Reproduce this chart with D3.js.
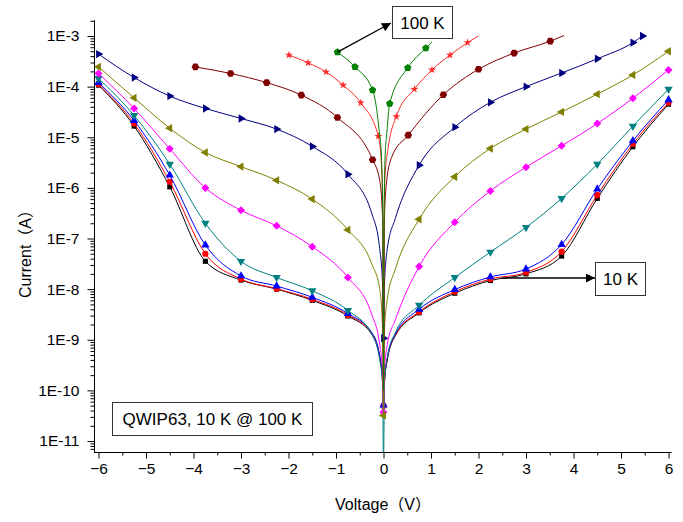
<!DOCTYPE html>
<html>
<head>
<meta charset="utf-8">
<script src="https://cdn.jsdelivr.net/npm/d3@7"></script>
<style>
    body { margin: 0; background: #fff; }
    svg { display: block; font-family: "Liberation Sans", Arial, "Noto Sans CJK SC", sans-serif; }
</style>
</head>
<body>
<svg id="chart" width="683" height="522"></svg>
<script>
// temperatures, one curve each
var temps = ['10 K', '20 K', '30 K', '40 K', '50 K', '60 K', '70 K', '80 K', '90 K', '100 K'];

// marker voltages for 10 K .. 60 K
var gridV = [-6, -5.25, -4.5, -3.75, -3, -2.25, -1.5, -0.75, 0, 0.75, 1.5, 2.25, 3, 3.75, 4.5, 5.25, 6];
// extra line points close to 0 V (no markers)
var nearV = [-0.25, -0.08, -0.02, 0.02, 0.08, 0.25];

var i10 = [1.07e-4, 1.66e-5, 1.05e-6, 3.55e-8, 1.51e-8, 1.0e-8, 6.0e-9, 2.95e-9, 5.0e-11, 3.4e-9, 8.3e-9, 1.48e-8, 2.0e-8, 4.5e-8, 6.2e-7, 6.5e-6, 4.5e-5];
var n10 = [1.3e-9, 4.5e-10, 1.6e-10, 1.5e-10, 4.0e-10, 1.2e-9];

var i20 = [1.12e-4, 1.86e-5, 1.32e-6, 5.0e-8, 1.58e-8, 1.02e-8, 6.3e-9, 3.1e-9, 5.0e-11, 3.55e-9, 8.9e-9, 1.58e-8, 2.14e-8, 5.5e-8, 7.2e-7, 7.4e-6, 4.8e-5];
var n20 = [1.35e-9, 4.7e-10, 1.65e-10, 1.55e-10, 4.2e-10, 1.25e-9];

var i30 = [1.2e-4, 2.14e-5, 1.78e-6, 7.4e-8, 1.82e-8, 1.15e-8, 6.9e-9, 3.3e-9, 5.1e-11, 4.0e-9, 9.8e-9, 1.74e-8, 2.5e-8, 7.6e-8, 9.5e-7, 8.5e-6, 5.5e-5];
var n30 = [1.4e-9, 4.9e-10, 1.7e-10, 1.6e-10, 4.4e-10, 1.3e-9];

var i40 = [1.45e-4, 2.7e-5, 2.95e-6, 2.0e-7, 3.55e-8, 1.7e-8, 9.3e-9, 3.8e-9, 3e-12, 4.8e-9, 1.7e-8, 5.4e-8, 1.66e-7, 6.2e-7, 2.95e-6, 1.66e-5, 8.9e-5];
var n40 = [1.3e-9, 4.0e-10, 1.3e-10, 1.3e-10, 4.5e-10, 1.4e-9];

var i50 = [1.82e-4, 3.7e-5, 5.9e-6, 1.0e-6, 3.6e-7, 1.78e-7, 6.9e-8, 1.7e-8, 3.7e-11, 2.8e-8, 2.1e-7, 8.7e-7, 2.57e-6, 6.8e-6, 1.86e-5, 5.9e-5, 2.14e-4];
var n50 = [3.2e-9, 8e-10, 2.5e-10, 2.5e-10, 8e-10, 2.5e-9];

var i60 = [2.45e-4, 6.0e-5, 1.51e-5, 5.0e-6, 2.63e-6, 1.41e-6, 6.0e-7, 1.48e-7, 3.2e-11, 2.4e-7, 1.66e-6, 6.0e-6, 1.45e-5, 3.16e-5, 7.1e-5, 1.7e-4, 5.0e-4];
var n60 = [3.2e-8, 1.0e-8, 1.6e-9, 1.6e-9, 6.3e-9, 2.5e-8];

var v70 = [-6, -5.25, -4.5, -3.75, -3, -2.25, -1.5, -0.75, 0, 0.75, 1.5, 2.25, 3, 3.75, 4.5, 5.25, 5.45];
var i70 = [4.4e-4, 1.51e-4, 6.5e-5, 3.7e-5, 2.35e-5, 1.45e-5, 6.6e-6, 1.86e-6, 1.07e-9, 2.8e-6, 1.58e-5, 4.9e-5, 1.0e-4, 1.86e-4, 3.55e-4, 7.4e-4, 1.0e-3];
var n70 = [3.2e-7, 6.3e-8, 1.26e-8, 1.26e-8, 6.3e-8, 2.5e-7];

var v80 = [-3.96, -3.22, -2.46, -1.73, -0.97, -0.23, 0.52, 1.26, 2.0, 2.75, 3.51];
var i80 = [2.45e-4, 1.82e-4, 1.2e-4, 6.8e-5, 2.45e-5, 3.6e-6, 1.1e-5, 6.9e-5, 2.2e-4, 4.6e-4, 7.9e-4];
var nv80 = [-0.08, -0.02, 0, 0.02, 0.06, 0.17, 3.8];
var n80 = [1.4e-6, 2.5e-7, 1e-10, 2.5e-7, 1.2e-6, 4e-6, 1.02e-3];

var v90 = [-1.99, -1.59, -1.21, -0.85, -0.48, -0.11, 0.27, 0.65, 1.02, 1.40, 1.77];
var i90 = [4.2e-4, 2.95e-4, 1.95e-4, 1.07e-4, 4.8e-5, 1.05e-5, 2.57e-5, 8.9e-5, 2.14e-4, 4.2e-4, 7.4e-4];
var nv90 = [-0.04, -0.01, 0, 0.01, 0.03, 0.1, 2.0];
var n90 = [2.5e-6, 1e-7, 1e-10, 1e-7, 1.6e-6, 6.3e-6, 1.0e-3];

var v100 = [-0.97, -0.60, -0.23, 0.13, 0.51, 0.89];
var i100 = [4.8e-4, 2.45e-4, 8.5e-5, 4.6e-5, 2.35e-4, 5.75e-4];
var nv100 = [-0.1, -0.04, -0.01, 0, 0.01, 0.03, 0.07, 1.02];
var n100 = [1.6e-5, 3.5e-6, 1e-7, 1e-10, 1e-7, 3.5e-6, 1.2e-5, 7.6e-4];

var colors = ['#000000', '#ff0000', '#0000ff', '#008080', '#ff00ff', '#808000', '#000080', '#800000', '#ff2a2a', '#008000'];

var xTicks = [-6, -5, -4, -3, -2, -1, 0, 1, 2, 3, 4, 5, 6];
var yTicks = [1e-3, 1e-4, 1e-5, 1e-6, 1e-7, 1e-8, 1e-9, 1e-10, 1e-11];

// regular polygon symbol for d3.symbol
function polygon(n, rot) {
    return {
        draw: function (ctx, size) {
            var r = Math.sqrt(size / (0.5 * n * Math.sin(2 * Math.PI / n)));
            for (var k = 0; k < n; k++) {
                var a = rot + k * 2 * Math.PI / n;
                if (k === 0) ctx.moveTo(r * Math.cos(a), r * Math.sin(a));
                else ctx.lineTo(r * Math.cos(a), r * Math.sin(a));
            }
            ctx.closePath();
        }
    };
}

var shapes = [
    [polygon(4, Math.PI / 4), 26],
    [d3.symbolCircle, 30],
    [polygon(3, -Math.PI / 2), 30],
    [polygon(3, Math.PI / 2), 30],
    [polygon(4, 0), 32],
    [polygon(3, Math.PI), 30],
    [polygon(3, 0), 30],
    [polygon(6, 0), 38],
    [d3.symbolStar, 20],
    [polygon(5, -Math.PI / 2), 36]
];

var series = [
    { mv: gridV, mi: i10, lv: nearV, li: n10 },
    { mv: gridV, mi: i20, lv: nearV, li: n20 },
    { mv: gridV, mi: i30, lv: nearV, li: n30 },
    { mv: gridV, mi: i40, lv: nearV, li: n40 },
    { mv: gridV, mi: i50, lv: nearV, li: n50 },
    { mv: gridV, mi: i60, lv: nearV, li: n60 },
    { mv: v70, mi: i70, lv: nearV, li: n70 },
    { mv: v80, mi: i80, lv: nv80, li: n80 },
    { mv: v90, mi: i90, lv: nv90, li: n90 },
    { mv: v100, mi: i100, lv: nv100, li: n100 }
];

var svg = d3.select('#chart');

var x = d3.scaleLinear().domain([-6.1, 6.05]).range([93.75, 670.9]);
var y = d3.scaleLog().domain([6.07e-12, 2.07e-3]).range([452, 20]);

var defs = svg.append('defs');
defs.append('clipPath')
    .attr('id', 'plot-clip')
    .append('rect')
    .attr('x', 94).attr('y', 12).attr('width', 583).attr('height', 440);

defs.append('marker')
    .attr('id', 'arrow')
    .attr('viewBox', '0 0 10 10')
    .attr('refX', 10).attr('refY', 5)
    .attr('markerWidth', 10).attr('markerHeight', 9)
    .attr('markerUnits', 'userSpaceOnUse')
    .attr('orient', 'auto')
    .append('path')
    .attr('d', 'M0,0 L10,5 L0,10 Z')
    .attr('fill', '#000');

// axes
var yMinor = [];
for (var e = -12; e <= -3; e++) {
    for (var m = 2; m <= 9; m++) {
        var v = m * Math.pow(10, e);
        if (v > 6.07e-12 && v < 2.07e-3) yMinor.push(v);
    }
}
var xMinor = xTicks.slice(0, -1).map(function (d) { return d + 0.5; });

svg.append('g')
    .attr('transform', 'translate(94,0)')
    .call(d3.axisLeft(y).tickValues(yMinor).tickSize(3.5).tickSizeOuter(0).tickFormat(''));

svg.append('g')
    .attr('transform', 'translate(94,0)')
    .call(d3.axisLeft(y).tickValues(yTicks).tickSize(6.5).tickSizeOuter(0).tickPadding(8)
        .tickFormat(function (d) { return '1E' + Math.round(Math.log10(d)); }));

svg.append('g')
    .attr('transform', 'translate(0,452)')
    .call(d3.axisBottom(x).tickValues(xMinor).tickSize(3.5).tickSizeOuter(0).tickFormat(''));

svg.append('g')
    .attr('transform', 'translate(0,452)')
    .call(d3.axisBottom(x).tickValues(xTicks).tickSize(6.5).tickSizeOuter(0).tickPadding(4));

svg.selectAll('.tick text')
    .style('font-size', '15.5px')
    .attr('fill', '#000');
svg.selectAll('.domain, .tick line').attr('stroke', '#000');

svg.append('text')
    .attr('x', 383).attr('y', 510)
    .attr('text-anchor', 'middle')
    .style('font-size', '16px')
    .text('Voltage（V）');

svg.append('text')
    .attr('transform', 'translate(31,250) rotate(-90)')
    .attr('text-anchor', 'middle')
    .style('font-size', '16px')
    .text('Current（A）');

// curves
var line = d3.line()
    .x(function (d) { return x(d[0]); })
    .y(function (d) { return y(d[1]); })
    .curve(d3.curveMonotoneX);

var plot = svg.append('g').attr('clip-path', 'url(#plot-clip)');

series.forEach(function (s, k) {
    var marks = s.mv.map(function (v, j) { return [v, s.mi[j]]; });
    var pts = marks.concat(s.lv.map(function (v, j) { return [v, s.li[j]]; }))
        .sort(function (a, b) { return a[0] - b[0]; });

    var g = plot.append('g').attr('class', 'curve').attr('data-name', temps[k]);

    g.append('path')
        .datum(pts)
        .attr('fill', 'none')
        .attr('stroke', colors[k])
        .attr('stroke-width', 1)
        .attr('d', line);

    g.selectAll('path.mark')
        .data(marks)
        .enter()
        .append('path')
        .attr('class', 'mark')
        .attr('transform', function (d) { return 'translate(' + x(d[0]) + ',' + y(d[1]) + ')'; })
        .attr('d', d3.symbol().type(shapes[k][0]).size(shapes[k][1]))
        .attr('fill', colors[k]);
});

// annotations
function label(x0, y0, w, h, txt, size) {
    svg.append('rect')
        .attr('x', x0).attr('y', y0).attr('width', w).attr('height', h)
        .attr('fill', '#fff').attr('stroke', '#333').attr('stroke-width', 1);
    svg.append('text')
        .attr('x', x0 + w / 2).attr('y', y0 + h / 2)
        .attr('dy', '0.36em')
        .attr('text-anchor', 'middle')
        .style('font-size', size + 'px')
        .text(txt);
}

svg.append('line')
    .attr('x1', x(v100[0])).attr('y1', y(i100[0]))
    .attr('x2', 391).attr('y2', 23)
    .attr('stroke', '#000').attr('stroke-width', 1.3)
    .attr('marker-end', 'url(#arrow)');
label(392.5, 6.5, 60, 32, '100 K', 17);

svg.append('line')
    .attr('x1', x(2.5)).attr('y1', 278)
    .attr('x2', 595).attr('y2', 278)
    .attr('stroke', '#000').attr('stroke-width', 1.3)
    .attr('marker-end', 'url(#arrow)');
label(595.5, 262.5, 50, 33, '10 K', 17);

label(112.5, 402.5, 200, 33, 'QWIP63, 10 K @ 100 K', 17);
</script>
</body>
</html>
